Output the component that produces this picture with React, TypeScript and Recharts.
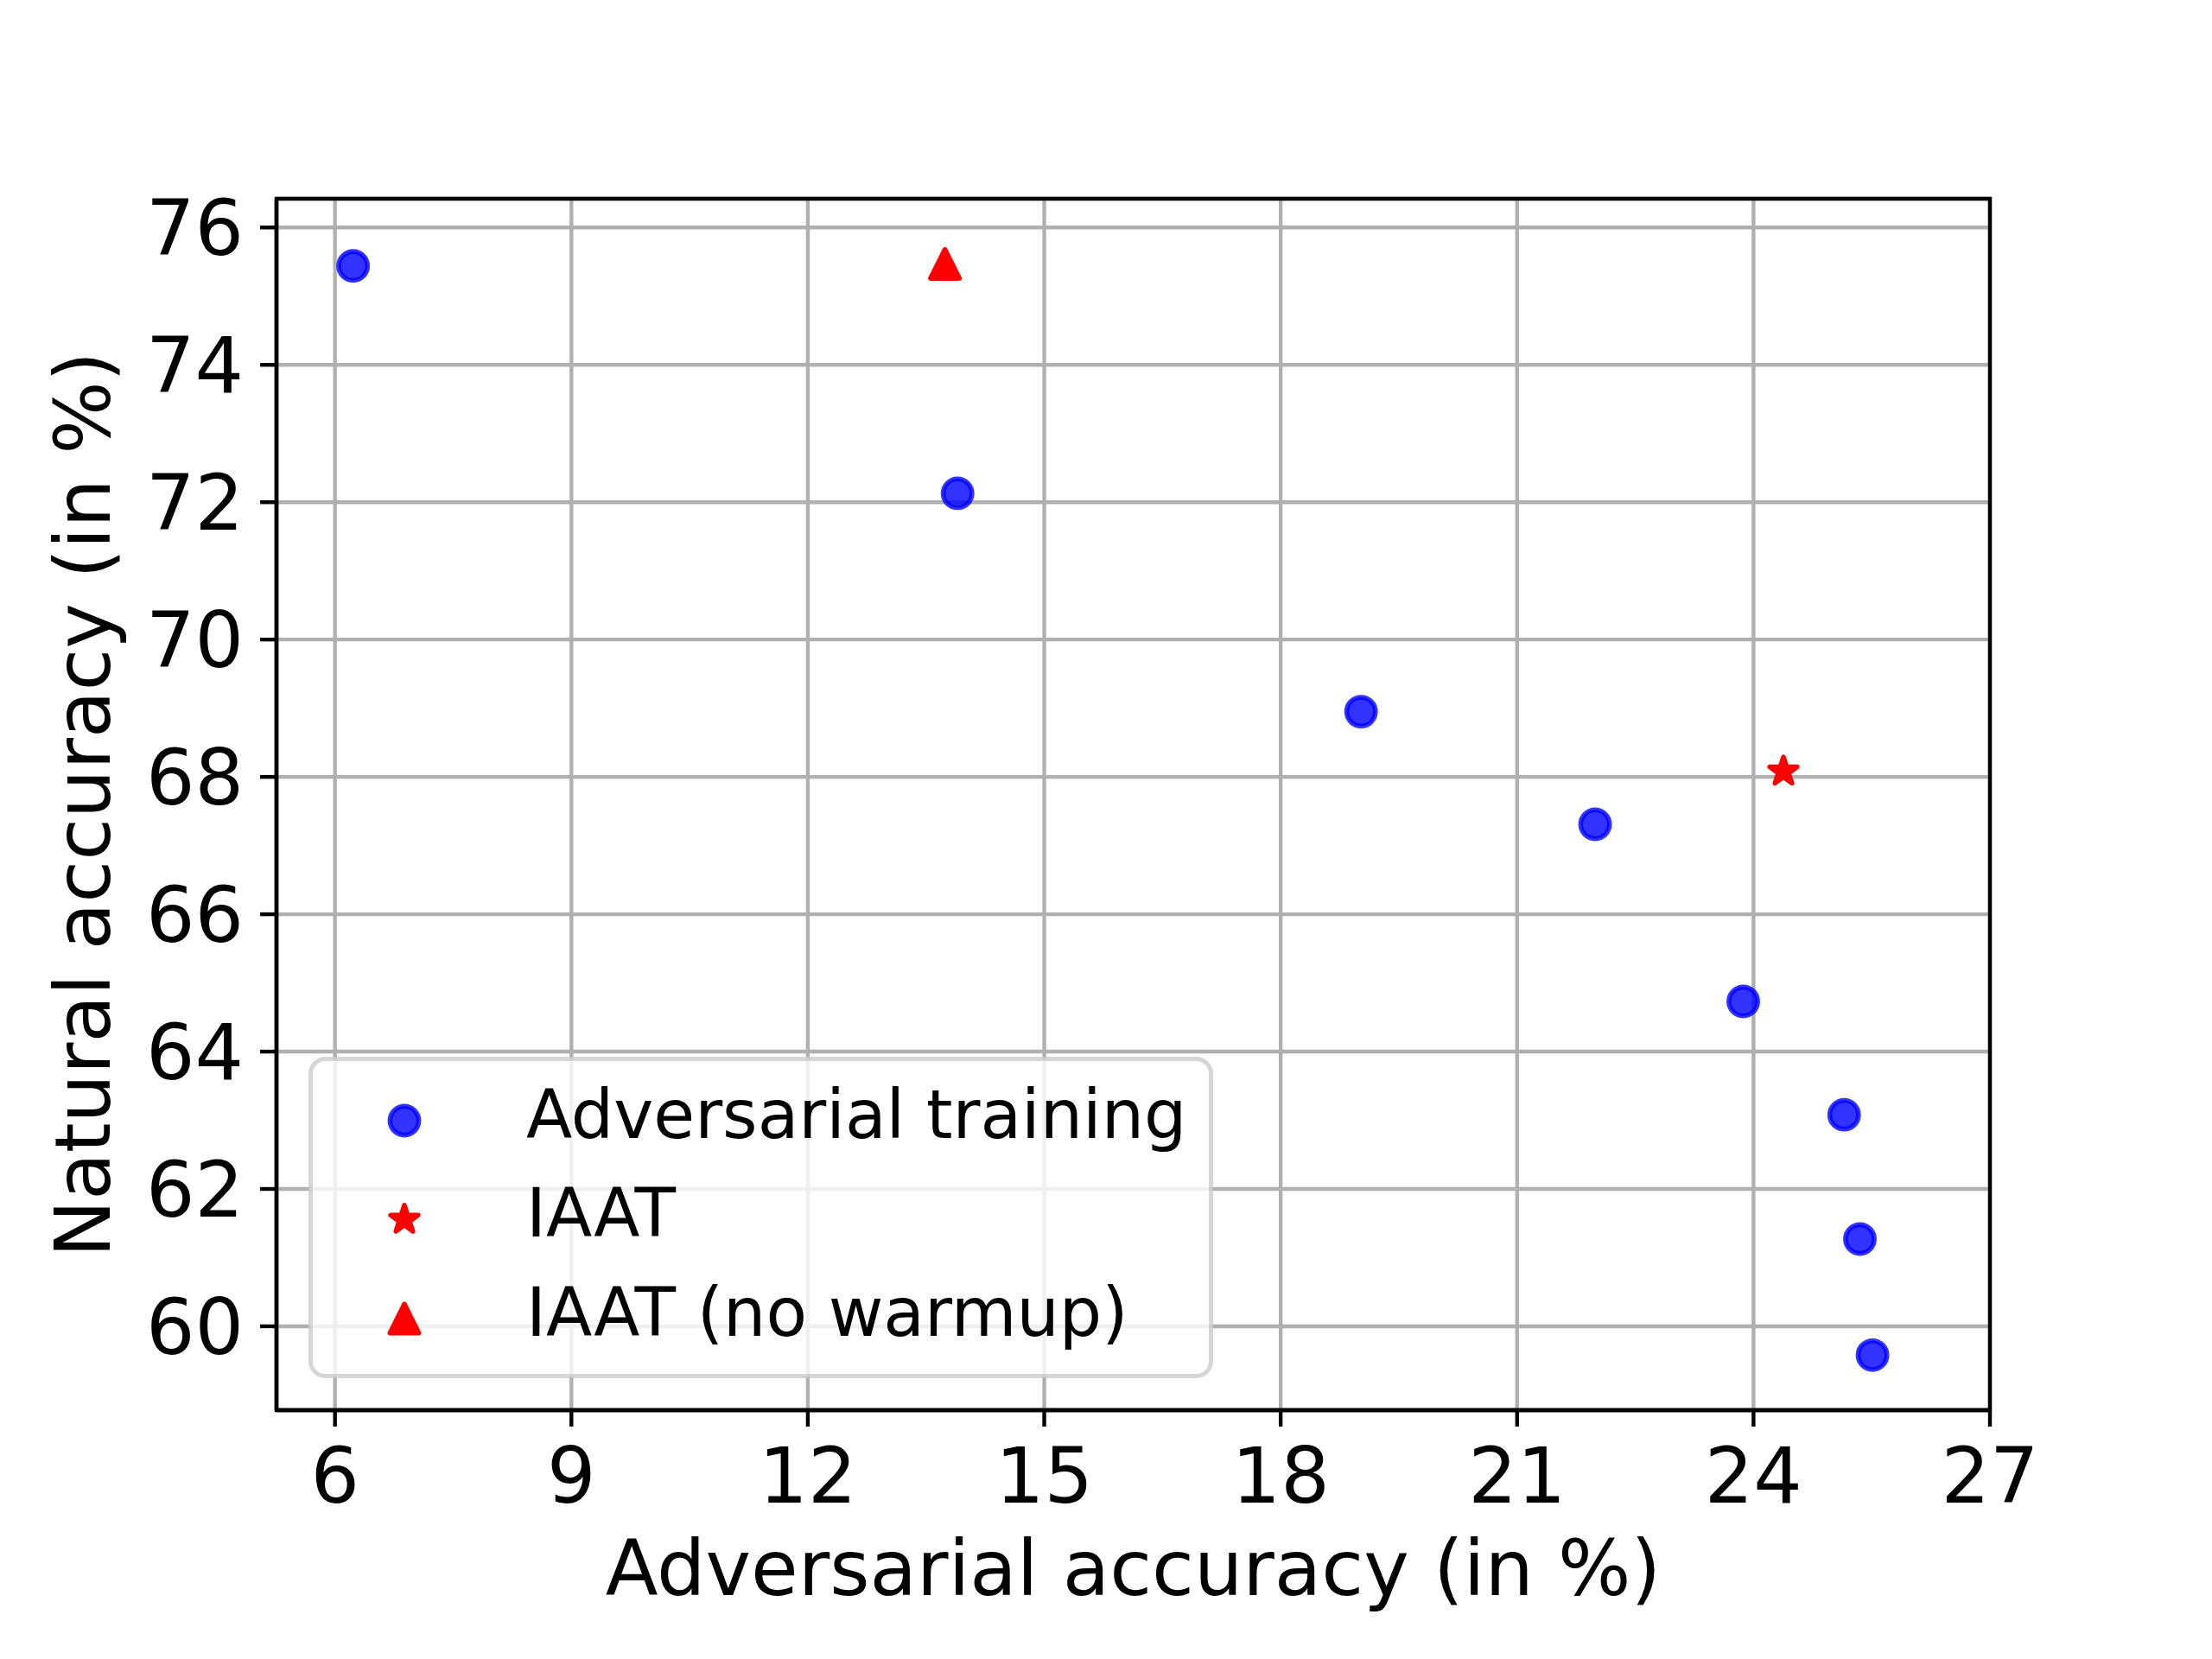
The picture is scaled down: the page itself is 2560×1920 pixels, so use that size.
import {
  CartesianGrid,
  Label,
  Legend,
  ReferenceArea,
  Scatter,
  ScatterChart,
  XAxis,
  YAxis,
} from "recharts";

const FONT = '"DejaVu Sans", sans-serif';

// values
const advTrainAdv = [6.23, 13.9, 19.02, 21.99, 23.87, 25.15, 25.35, 25.51];
const advTrainNat = [75.44, 72.13, 68.95, 67.31, 64.73, 63.08, 61.27, 59.58];
const iaatAdv = [24.38];
const iaatNat = [68.08];
const noWarmupAdv = [13.74];
const noWarmupNat = [75.47];

const seriesNames = ["Adversarial training", "IAAT", "IAAT (no warmup)"];
const xTicks = [6, 9, 12, 15, 18, 21, 24, 27];
const yTicks = [60, 62, 64, 66, 68, 70, 72, 74, 76];

const X_DOMAIN: [number, number] = [5.258, 27];
const Y_DOMAIN: [number, number] = [58.779, 76.419];

type Kind = "circle" | "star" | "triangle";
const kinds: Kind[] = ["circle", "star", "triangle"];

const zip = (xs: number[], ys: number[]) => xs.map((x, i) => ({ x, y: ys[i] }));

const advTrainData = zip(advTrainAdv, advTrainNat);
const iaatData = zip(iaatAdv, iaatNat);
const noWarmupData = zip(noWarmupAdv, noWarmupNat);

function Marker({ kind, cx, cy }: { kind: Kind; cx: number; cy: number }) {
  const s = 16.67;
  const lw = 5.56;
  if (kind === "circle") {
    return (
      <circle
        cx={cx}
        cy={cy}
        r={s}
        fill="#0000ff"
        fillOpacity={0.8}
        stroke="#0000ff"
        strokeOpacity={0.8}
        strokeWidth={lw}
      />
    );
  }
  if (kind === "triangle") {
    const d = `M${cx},${cy - s}L${cx - s},${cy + s}L${cx + s},${cy + s}Z`;
    return <path d={d} fill="#ff0000" stroke="#ff0000" strokeWidth={lw} strokeLinejoin="round" />;
  }
  const pts: string[] = [];
  for (let i = 0; i < 10; i++) {
    const r = i % 2 === 0 ? s : s * 0.381966;
    const a = -Math.PI / 2 + (i * Math.PI) / 5;
    pts.push(`${cx + r * Math.cos(a)},${cy + r * Math.sin(a)}`);
  }
  return (
    <polygon points={pts.join(" ")} fill="#ff0000" stroke="#ff0000" strokeWidth={lw} strokeLinejoin="round" />
  );
}

const shapeFor = (kind: Kind) => (props: any) => <Marker kind={kind} cx={props.cx} cy={props.cy} />;

function LegendBox(props: any) {
  const items: string[] =
    props.payload && props.payload.length
      ? props.payload.map((p: any) => p.value)
      : seriesNames;
  return (
    <svg width={1047} height={372} style={{ display: "block" }}>
      <rect
        x={2.5}
        y={2.5}
        width={1042}
        height={367}
        rx={17}
        fill="#ffffff"
        fillOpacity={0.8}
        stroke="#cccccc"
        strokeOpacity={0.8}
        strokeWidth={5}
      />
      {items.map((name, i) => {
        const k = kinds[seriesNames.indexOf(name)] ?? kinds[i];
        const cy = 74 + i * 114.5;
        return (
          <g key={name}>
            <Marker kind={k} cx={111} cy={cy} />
            <text x={252} y={cy + 19.5} fontSize={77.8} fontFamily={FONT} fill="#000">
              {name}
            </text>
          </g>
        );
      })}
    </svg>
  );
}

const XTitle = (props: any) => {
  const vb = props.viewBox ?? { x: 320, y: 1632, width: 1983 };
  return (
    <text x={vb.x + vb.width / 2} y={vb.y + 214} textAnchor="middle" fontSize={88.9} fontFamily={FONT} fill="#000">
      Adversarial accuracy (in %)
    </text>
  );
};

const YTitle = (props: any) => {
  const vb = props.viewBox ?? { x: 0, y: 230, height: 1402 };
  return (
    <text
      transform={`translate(127, ${vb.y + vb.height / 2}) rotate(-90)`}
      x={0}
      y={0}
      textAnchor="middle"
      fontSize={88.9}
      fontFamily={FONT}
      fill="#000"
    >
      Natural accuracy (in %)
    </text>
  );
};

const tickStyle = { fontSize: 88.9, fill: "#000", fontFamily: FONT };
const lineStyle = { stroke: "#000", strokeWidth: 4.4 };

export default function App() {
  return (
    <div style={{ position: "absolute", left: 0, top: 0, width: 2560, height: 1920, background: "#fff" }}>
      <ScatterChart width={2560} height={1920} margin={{ top: 230, right: 257, bottom: 0, left: 0 }}>
        <CartesianGrid stroke="#b0b0b0" strokeWidth={4.4} />
        <XAxis
          type="number"
          dataKey="x"
          domain={X_DOMAIN}
          ticks={xTicks}
          interval={0}
          allowDataOverflow
          height={288}
          stroke="#000"
          tick={tickStyle}
          tickSize={19}
          tickMargin={25}
          axisLine={lineStyle}
          tickLine={lineStyle}
        >
          <Label content={XTitle} />
        </XAxis>
        <YAxis
          type="number"
          dataKey="y"
          domain={Y_DOMAIN}
          ticks={yTicks}
          interval={0}
          allowDataOverflow
          width={320}
          stroke="#000"
          tick={tickStyle}
          tickSize={19}
          tickMargin={19}
          axisLine={lineStyle}
          tickLine={lineStyle}
        >
          <Label content={YTitle} />
        </YAxis>
        <ReferenceArea
          x1={X_DOMAIN[0]}
          x2={X_DOMAIN[1]}
          y1={Y_DOMAIN[0]}
          y2={Y_DOMAIN[1]}
          ifOverflow="visible"
          fill="none"
          fillOpacity={0}
          stroke="#000"
          strokeWidth={4.4}
          strokeOpacity={1}
        />
        <Scatter
          name={seriesNames[0]}
          data={advTrainData}
          fill="#0000ff"
          shape={shapeFor("circle")}
          isAnimationActive={false}
        />
        <Scatter
          name={seriesNames[1]}
          data={iaatData}
          fill="#ff0000"
          shape={shapeFor("star")}
          isAnimationActive={false}
        />
        <Scatter
          name={seriesNames[2]}
          data={noWarmupData}
          fill="#ff0000"
          shape={shapeFor("triangle")}
          isAnimationActive={false}
        />
        <Legend
          layout="horizontal"
          verticalAlign="middle"
          align="center"
          content={LegendBox}
          wrapperStyle={{ left: 357, top: 1223, width: 1047, height: 372 }}
        />
      </ScatterChart>
    </div>
  );
}
